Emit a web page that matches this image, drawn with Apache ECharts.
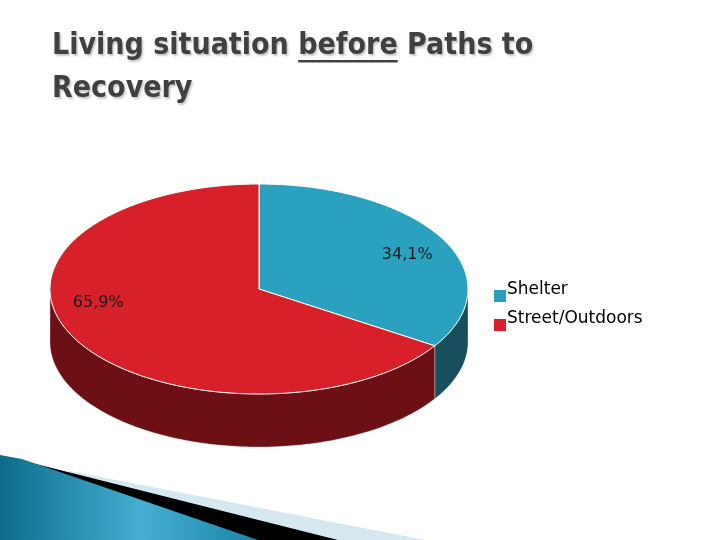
<!DOCTYPE html>
<html>
<head>
<meta charset="utf-8">
<script src="https://cdn.jsdelivr.net/npm/echarts@6/dist/echarts.min.js"></script>
<style>
  html, body { margin: 0; padding: 0; background: #fff; }
  #chart { width: 720px; height: 540px; }
</style>
</head>
<body>
<div id="chart"></div>
<script>
// data
var categories = ['Shelter', 'Street/Outdoors'];
var shares = [34.1, 65.9];

var topColors = ['#2ba1c0', '#d8202a'];
var sideColors = ['#174f5d', '#6c1016'];

var TITLE_FONT = '"DejaVu Sans Condensed", "Liberation Sans Narrow", "DejaVu Sans", sans-serif';
var BODY_FONT = '"DejaVu Sans", "Noto Sans", sans-serif';

// ellipse layout of the 3d pie
var pie = { cx: 259, cy: 289, rx: 209, ry: 105, depth: 53 };
var labelShift = [4, 19]; // degrees, nudges the label like powerpoint did

var dom = document.getElementById('chart');
var myChart = echarts.init(dom, null, { renderer: 'canvas' });

function total() {
  var t = 0;
  for (var i = 0; i < shares.length; i++) t += shares[i];
  return t;
}

function startAngle(idx) {
  var acc = 0;
  for (var i = 0; i < idx; i++) acc += shares[i];
  return -90 + acc / total() * 360;
}

function pt(deg, down) {
  var a = deg * Math.PI / 180;
  return [pie.cx + pie.rx * Math.cos(a), pie.cy + pie.ry * Math.sin(a) + (down || 0)];
}

function arcPoints(a1, a2, down) {
  var pts = [];
  var n = Math.max(2, Math.ceil(Math.abs(a2 - a1)));
  for (var k = 0; k <= n; k++) pts.push(pt(a1 + (a2 - a1) * k / n, down));
  return pts;
}

function renderSlice(params, api) {
  var idx = params.seriesIndex;
  var a1 = startAngle(idx);
  var a2 = a1 + api.value(0) / total() * 360;
  var children = [];

  // front wall: only the part between 0 and 180 deg shows
  var w1 = Math.max(a1, 0), w2 = Math.min(a2, 180);
  if (w2 > w1) {
    var wall = arcPoints(w1, w2, 0).concat(arcPoints(w2, w1, pie.depth));
    children.push({
      type: 'polygon', z2: 1,
      shape: { points: wall },
      style: { fill: sideColors[idx], stroke: 'rgba(255,255,255,0.5)', lineWidth: 0.6 }
    });
  }

  var top = [[pie.cx, pie.cy]].concat(arcPoints(a1, a2, 0));
  children.push({
    type: 'polygon', z2: 10,
    shape: { points: top },
    style: { fill: topColors[idx], stroke: '#ffffff', lineWidth: 1 }
  });

  var mid = (a1 + a2) / 2 + labelShift[idx];
  var m = mid * Math.PI / 180;
  var lx = pie.cx + 0.78 * pie.rx * Math.cos(m);
  var ly = pie.cy + 0.78 * pie.ry * Math.sin(m);
  children.push({
    type: 'text', z2: 20,
    x: lx, y: ly,
    style: {
      text: api.value(0).toFixed(1).replace('.', ',') + '%',
      fill: '#1a1a1a',
      font: '16px ' + BODY_FONT,
      align: 'center',
      verticalAlign: 'middle'
    }
  });

  return { type: 'group', children: children };
}

// where "before" sits on the first title line, for the underline
var ctx = document.createElement('canvas').getContext('2d');
var titleSize = 30;
ctx.font = 'bold ' + titleSize + 'px ' + TITLE_FONT;
var preW = ctx.measureText('Living situation ').width;
var wordW = ctx.measureText('before').width;
var titleLeft = 52, titleTop = 25, lineH = 43;

var series = [];
for (var i = 0; i < categories.length; i++) {
  series.push({
    type: 'custom',
    name: categories[i],
    coordinateSystem: 'none',
    itemStyle: { color: topColors[i] },
    silent: true,
    renderItem: renderSlice,
    data: [[shares[i]]]
  });
}

var option = {
  animation: false,
  backgroundColor: '#ffffff',
  title: {
    text: 'Living situation before Paths to\nRecovery',
    left: titleLeft,
    top: titleTop,
    padding: 0,
    textStyle: {
      fontFamily: TITLE_FONT,
      fontSize: titleSize,
      fontWeight: 'bold',
      color: '#404040',
      lineHeight: lineH,
      textShadowColor: 'rgba(0,0,0,0.22)',
      textShadowBlur: 2,
      textShadowOffsetX: 1.5,
      textShadowOffsetY: 1.5
    }
  },
  legend: {
    orient: 'vertical',
    left: 494,
    top: 278,
    padding: 0,
    // square sits low in a taller box so the text rides above it, as on the slide
    icon: 'path://M0,0L0.01,0L0.01,0.01Z M0,12L12,12L12,24L0,24Z',
    itemWidth: 12,
    itemHeight: 24,
    itemGap: 5,
    data: categories,
    textStyle: {
      fontFamily: BODY_FONT,
      fontSize: 17,
      color: '#000',
      padding: [0, 0, 0, -4]
    }
  },
  graphic: [
    // underline under "before"
    { type: 'rect', z: 5,
      shape: { x: titleLeft + preW, y: titleTop + 35, width: wordW, height: 2.5 },
      style: { fill: '#404040' } },
    // slide decoration, bottom left
    { type: 'polygon', z: 0,
      shape: { points: [[70, 471], [425, 540], [0, 540]] },
      style: { fill: '#d6e8ef' } },
    { type: 'polygon', z: 0,
      shape: { points: [[28, 462], [338, 540], [0, 540]] },
      style: { fill: '#000000' } },
    { type: 'polygon', z: 0,
      shape: { points: [[0, 455], [22, 459], [258, 540], [0, 540]] },
      style: {
        fill: new echarts.graphic.LinearGradient(0, 0, 1, 0, [
          { offset: 0, color: '#0d6c8a' },
          { offset: 0.55, color: '#45aed2' },
          { offset: 1, color: '#1a84a6' }
        ])
      } }
  ],
  series: series
};

myChart.setOption(option);
window.addEventListener('resize', myChart.resize);
</script>
</body>
</html>
